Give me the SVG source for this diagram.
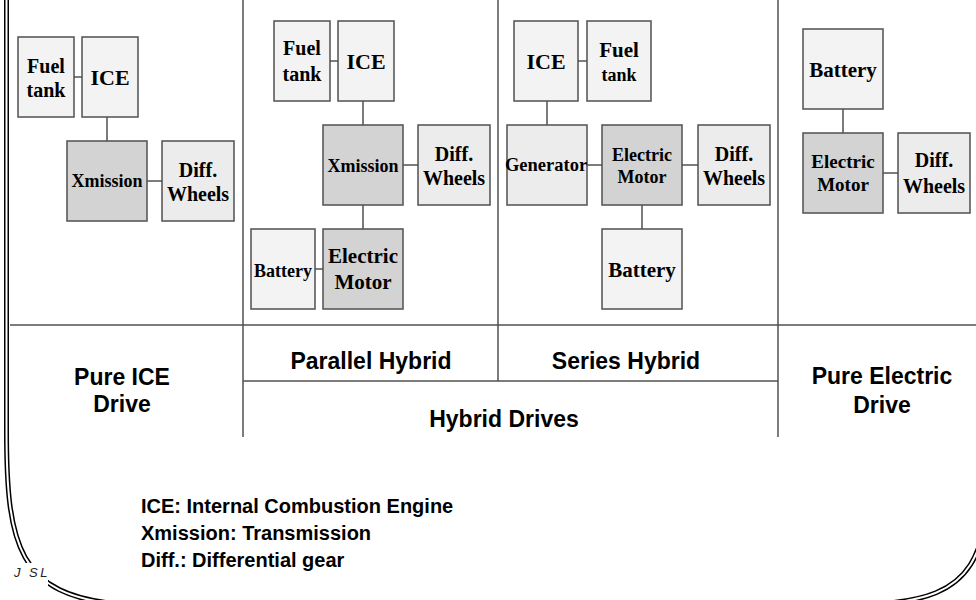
<svg xmlns="http://www.w3.org/2000/svg" width="976" height="600" viewBox="0 0 976 600">
<style>
.box{stroke:#505050;stroke-width:1.5}
.lt{fill:#f3f3f3}
.md{fill:#ececec}
.dk{fill:#d3d3d3}
.n{font-family:"Liberation Serif","Times New Roman",serif;font-weight:bold;fill:#000;text-anchor:middle}
.lab{font-family:"Liberation Sans",Arial,sans-serif;font-weight:bold;font-size:23px;fill:#000;text-anchor:middle}
.leg{font-family:"Liberation Sans",Arial,sans-serif;font-weight:bold;font-size:20px;fill:#000}
.c{stroke:#505050;stroke-width:1.5;fill:none}
.div{stroke:#505050;stroke-width:1.5;fill:none}
</style>
<rect width="976" height="600" fill="#fff"/>
<g id="frame" fill="none">
<path d="M6.5,0 V430 C6.5,545 18,596 120,604" stroke="#000" stroke-width="5"/>
<path d="M6.5,0 V430 C6.5,545 18,596 120,604" stroke="#fff" stroke-width="2"/>
<path d="M990,440 C990,560 975.5,598 876.5,604" stroke="#000" stroke-width="5"/>
<path d="M990,440 C990,560 975.5,598 876.5,604" stroke="#fff" stroke-width="2"/>
<rect x="12" y="563" width="36" height="23" fill="#fff"/>
<text x="14" y="577" font-family="Liberation Sans,Arial,sans-serif" font-style="italic" font-size="13" letter-spacing="2.5" fill="#222">J SL</text>
</g>
<g id="grid">
<line class="div" x1="243" y1="0" x2="243" y2="437"/>
<line class="div" x1="498" y1="0" x2="498" y2="381"/>
<line class="div" x1="778" y1="0" x2="778" y2="437"/>
<line class="div" x1="10" y1="325" x2="976" y2="325"/>
<line class="div" x1="243" y1="381" x2="778" y2="381"/>
</g>
<g id="connectors">
<line class="c" x1="74" y1="77" x2="82" y2="77"/>
<line class="c" x1="107" y1="117" x2="107" y2="141"/>
<line class="c" x1="147" y1="181" x2="162" y2="181"/>
<line class="c" x1="330" y1="61" x2="338" y2="61"/>
<line class="c" x1="363" y1="101" x2="363" y2="125"/>
<line class="c" x1="403" y1="165" x2="418" y2="165"/>
<line class="c" x1="363" y1="205" x2="363" y2="229"/>
<line class="c" x1="315" y1="269" x2="323" y2="269"/>
<line class="c" x1="578" y1="61" x2="587" y2="61"/>
<line class="c" x1="547" y1="101" x2="547" y2="125"/>
<line class="c" x1="587" y1="165" x2="602" y2="165"/>
<line class="c" x1="682" y1="165" x2="698" y2="165"/>
<line class="c" x1="642" y1="205" x2="642" y2="229"/>
<line class="c" x1="843" y1="109" x2="843" y2="133"/>
<line class="c" x1="883" y1="173" x2="898" y2="173"/>
</g>
<g id="fuel1"><rect class="box lt" x="18" y="37" width="56" height="80"/><text class="n" x="46" y="73" font-size="20">Fuel</text><text class="n" x="46" y="97" font-size="20">tank</text></g>
<g id="ice1"><rect class="box lt" x="82" y="37" width="56" height="80"/><text class="n" x="110" y="85" font-size="22">ICE</text></g>
<g id="xm1"><rect class="box dk" x="67" y="141" width="80" height="80"/><text class="n" x="107" y="187" font-size="18">Xmission</text></g>
<g id="dw1"><rect class="box md" x="162" y="141" width="72" height="80"/><text class="n" x="198" y="177" font-size="20">Diff.</text><text class="n" x="198" y="201" font-size="20">Wheels</text></g>
<g id="fuel2"><rect class="box lt" x="274" y="21" width="56" height="80"/><text class="n" x="302" y="55" font-size="20">Fuel</text><text class="n" x="302" y="81" font-size="20">tank</text></g>
<g id="ice2"><rect class="box lt" x="338" y="21" width="56" height="80"/><text class="n" x="366" y="69" font-size="22">ICE</text></g>
<g id="xm2"><rect class="box dk" x="323" y="125" width="80" height="80"/><text class="n" x="363" y="172" font-size="18">Xmission</text></g>
<g id="dw2"><rect class="box md" x="418" y="125" width="72" height="80"/><text class="n" x="454" y="161" font-size="20">Diff.</text><text class="n" x="454" y="185" font-size="20">Wheels</text></g>
<g id="em2"><rect class="box dk" x="323" y="229" width="80" height="80"/><text class="n" x="363" y="263" font-size="21">Electric</text><text class="n" x="363" y="289" font-size="21">Motor</text></g>
<g id="bat2"><rect class="box lt" x="251" y="229" width="64" height="80"/><text class="n" x="283" y="277" font-size="18">Battery</text></g>
<g id="ice3"><rect class="box lt" x="514" y="21" width="64" height="80"/><text class="n" x="546" y="69" font-size="22">ICE</text></g>
<g id="fuel3"><rect class="box lt" x="587" y="21" width="64" height="80"/><text class="n" x="619" y="57" font-size="21">Fuel</text><text class="n" x="619" y="81" font-size="18">tank</text></g>
<g id="gen3"><rect class="box md" x="507" y="125" width="80" height="80"/><text class="n" x="546" y="171" font-size="18.5">Generator</text></g>
<g id="em3"><rect class="box dk" x="602" y="125" width="80" height="80"/><text class="n" x="642" y="161" font-size="18">Electric</text><text class="n" x="642" y="183" font-size="18">Motor</text></g>
<g id="dw3"><rect class="box md" x="698" y="125" width="72" height="80"/><text class="n" x="734" y="161" font-size="20">Diff.</text><text class="n" x="734" y="185" font-size="20">Wheels</text></g>
<g id="bat3"><rect class="box lt" x="602" y="229" width="80" height="80"/><text class="n" x="642" y="277" font-size="21">Battery</text></g>
<g id="bat4"><rect class="box lt" x="803" y="29" width="80" height="80"/><text class="n" x="843" y="77" font-size="21">Battery</text></g>
<g id="em4"><rect class="box dk" x="803" y="133" width="80" height="80"/><text class="n" x="843" y="168" font-size="19">Electric</text><text class="n" x="843" y="191" font-size="19">Motor</text></g>
<g id="dw4"><rect class="box md" x="898" y="133" width="72" height="80"/><text class="n" x="934" y="167" font-size="20">Diff.</text><text class="n" x="934" y="193" font-size="20">Wheels</text></g>
<g id="labels">
<text class="lab" x="122" y="385">Pure ICE</text>
<text class="lab" x="122" y="412">Drive</text>
<text class="lab" x="371" y="369">Parallel Hybrid</text>
<text class="lab" x="626" y="369">Series Hybrid</text>
<text class="lab" x="504" y="427">Hybrid Drives</text>
<text class="lab" x="882" y="384">Pure Electric</text>
<text class="lab" x="882" y="413">Drive</text>
</g>
<g id="legend">
<text class="leg" x="141" y="513">ICE: Internal Combustion Engine</text>
<text class="leg" x="141" y="540">Xmission: Transmission</text>
<text class="leg" x="141" y="567">Diff.: Differential gear</text>
</g>
</svg>
